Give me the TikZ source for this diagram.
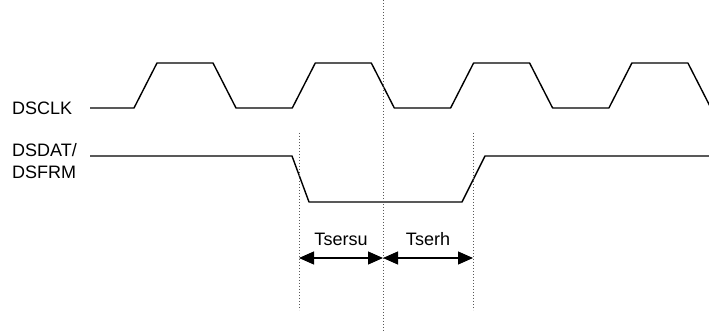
\documentclass[tikz,border=0pt]{standalone}
\usepackage{fontspec}
\setmainfont{Liberation Sans}
\usetikzlibrary{arrows.meta}
\usetikzlibrary{positioning}

\begin{document}
\begin{tikzpicture}[x=1pt,y=1pt,
	wave/.style={line width=1.4pt,line join=round},
	guide/.style={dash pattern=on 1pt off 2pt,line width=1pt,black!65},
	span/.style={line width=1.2pt,{Triangle[length=15pt,width=13pt]}-{Triangle[length=15pt,width=13pt]}},
	sig/.style={font=\fontsize{18}{22}\selectfont,inner sep=0pt}]
	\useasboundingbox (0,0) rectangle (709,331);

	% signal names
	\node[sig,anchor=west] (clk) at (12,223) {DSCLK};
	\node[sig,anchor=west,align=left] (dat) at (12,170) {DSDAT/\\DSFRM};

	% waveforms
	\draw[wave] (90,223) \foreach \i in {0,...,3}{
		-- ({134+158.3*\i},223) -- ({157+158.3*\i},268)
		-- ({213+158.3*\i},268) -- ({236+158.3*\i},223)};
	\draw[wave] (90,175) -- (292,175) -- (309,129) -- (462,129) -- (485,175) -- (709,175);

	% timing marks
	\coordinate (su) at (299,73);
	\coordinate (edge) at (383,73);
	\coordinate (hold) at (473,73);
	\draw[guide] (383,331) -- (383,0);
	\draw[guide] (299,198) -- (299,21);
	\draw[guide] (473,198) -- (473,21);
	\draw[span] (su) -- (edge) node[sig,midway,above=12pt] (tsu) {Tsersu};
	\draw[span] (edge) -- (hold) node[sig,midway,above=12pt] (th) {Tserh};
\end{tikzpicture}
\end{document}
